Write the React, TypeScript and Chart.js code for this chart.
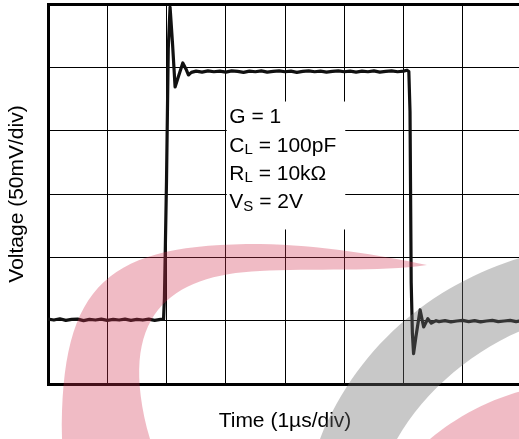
import React, { useEffect, useRef } from "react";
import { Chart, registerables } from "chart.js";

Chart.register(...registerables);

const FAMILY = "'Liberation Sans', Arial, sans-serif";

// Time in µs (1 µs / div), voltage in divisions (50 mV / div)
const timeUs: number[] = [
  0.0, 0.1, 0.2, 0.3, 0.4, 0.5, 0.6, 0.7, 0.8, 0.9,
  1.0, 1.1, 1.2, 1.3, 1.4, 1.5, 1.6, 1.7, 1.8, 1.9, 1.95,
  1.965, 2.0, 2.03, 2.06, 2.1, 2.145, 2.2, 2.275, 2.33, 2.37, 2.42,
  2.5, 2.6, 2.7, 2.8, 2.9, 3.0, 3.1, 3.2, 3.3, 3.4, 3.5, 3.6, 3.7, 3.8, 3.9,
  4.0, 4.1, 4.2, 4.3, 4.4, 4.5, 4.6, 4.7, 4.8, 4.9, 5.0, 5.1, 5.2, 5.3, 5.4,
  5.5, 5.6, 5.7, 5.8, 5.9, 6.0, 6.06, 6.09,
  6.11, 6.13, 6.15, 6.17, 6.21, 6.28, 6.34, 6.41, 6.47, 6.55,
  6.6, 6.7, 6.8, 6.9, 7.0, 7.1, 7.2, 7.3, 7.4, 7.5, 7.6, 7.7, 7.8, 7.9, 8.0,
];

const voltDiv: number[] = [
  1.025, 1.01, 1.03, 1.005, 1.02, 1.025, 1.0, 1.02, 1.01, 1.025,
  1.005, 1.02, 1.01, 1.025, 1.005, 1.02, 1.01, 1.025, 1.005, 1.02, 1.02,
  1.35, 3.2, 5.3, 5.95, 5.4, 4.69, 4.85, 5.07, 4.97, 4.88, 4.92,
  4.94, 4.925, 4.945, 4.93, 4.94, 4.925, 4.945, 4.935, 4.92, 4.94, 4.93, 4.945, 4.925, 4.935, 4.945,
  4.93, 4.94, 4.92, 4.935, 4.945, 4.93, 4.94, 4.925, 4.935, 4.945, 4.93, 4.94, 4.925, 4.94, 4.93,
  4.945, 4.925, 4.935, 4.945, 4.93, 4.94, 4.955, 4.935,
  4.3, 1.6, 0.8, 0.48, 0.75, 1.17, 0.9, 1.03, 0.96, 1.0,
  0.985, 1.0, 0.98, 0.995, 1.005, 0.985, 1.0, 0.98, 0.995, 1.005, 0.985, 0.995, 1.005, 0.985, 1.0,
];

const xTitle = "Time (1µs/div)";
const yTitle = "Voltage (50mV/div)";
const xRange = [0, 8];
const yRange = [0, 6];

// Annotation text (condition box)
const labelMain = ["G", "C", "R", "V"];
const labelSub = ["", "L", "L", "S"];
const labelRest = [" = 1", " = 100pF", " = 10kΩ", " = 2V"];
const labelX = 3.06;
const labelBaselines = [4.115, 3.67, 3.222, 2.775];
const boxX = [3, 5];
const boxY = [2.44, 4.46];

const annotationPlugin = {
  id: "annotationBox",
  beforeDatasetsDraw(chart: any) {
    const { ctx, scales } = chart;
    const x = scales.x;
    const y = scales.y;
    const x0 = x.getPixelForValue(boxX[0]) + 1;
    const x1 = x.getPixelForValue(boxX[1]) + 1;
    const y0 = y.getPixelForValue(boxY[1]);
    const y1 = y.getPixelForValue(boxY[0]);
    ctx.save();
    ctx.fillStyle = "#ffffff";
    ctx.fillRect(x0, y0, x1 - x0, y1 - y0);
    ctx.fillStyle = "#000000";
    ctx.textBaseline = "alphabetic";
    ctx.textAlign = "left";
    for (let i = 0; i < labelMain.length; i++) {
      let px = x.getPixelForValue(labelX);
      const py = y.getPixelForValue(labelBaselines[i]);
      ctx.font = `21px ${FAMILY}`;
      ctx.fillText(labelMain[i], px, py);
      px += ctx.measureText(labelMain[i]).width;
      if (labelSub[i]) {
        ctx.font = `15px ${FAMILY}`;
        ctx.fillText(labelSub[i], px, py + 2.5);
        px += ctx.measureText(labelSub[i]).width;
      }
      ctx.font = `21px ${FAMILY}`;
      ctx.fillText(labelRest[i], px, py);
    }
    ctx.restore();
  },
};

const watermarkPlugin = {
  id: "watermark",
  afterDraw(chart: any) {
    const { ctx } = chart;
    ctx.save();
    // red crescent
    ctx.fillStyle = "rgba(210,50,80,0.33)";
    ctx.beginPath();
    ctx.moveTo(62, 439);
    ctx.bezierCurveTo(60, 280, 110, 244, 260, 244);
    ctx.bezierCurveTo(320, 245, 380, 255, 427, 265);
    ctx.bezierCurveTo(380, 272, 310, 268, 260, 271);
    ctx.bezierCurveTo(170, 275, 115, 315, 150, 439);
    ctx.closePath();
    ctx.fill();
    // red corner shape bottom right
    ctx.beginPath();
    ctx.moveTo(430, 439);
    ctx.bezierCurveTo(455, 418, 490, 398, 530, 389);
    ctx.lineTo(530, 439);
    ctx.closePath();
    ctx.fill();
    // grey band
    ctx.fillStyle = "rgba(110,110,110,0.38)";
    ctx.beginPath();
    ctx.moveTo(320, 439);
    ctx.bezierCurveTo(360, 340, 440, 280, 530, 255);
    ctx.lineTo(530, 327);
    ctx.bezierCurveTo(475, 348, 425, 390, 397, 439);
    ctx.closePath();
    ctx.fill();
    ctx.restore();
  },
};

export default function App() {
  const canvasRef = useRef<HTMLCanvasElement | null>(null);

  useEffect(() => {
    const canvas = canvasRef.current;
    if (!canvas) return;
    const points = timeUs.map((t, i) => ({ x: t, y: voltDiv[i] }));
    const chart = new Chart(canvas, {
      type: "line",
      data: {
        datasets: [
          {
            data: points,
            borderColor: "#111111",
            borderWidth: 3.2,
            pointRadius: 0,
            tension: 0,
            borderJoinStyle: "round",
            fill: false,
          },
        ],
      },
      options: {
        animation: false,
        responsive: false,
        devicePixelRatio: 1,
        layout: { padding: { top: 4, right: 8, left: 0, bottom: 0 } },
        plugins: {
          legend: { display: false },
          tooltip: { enabled: false },
        },
        scales: {
          x: {
            type: "linear",
            position: "bottom",
            min: xRange[0],
            max: xRange[1],
            ticks: { display: false, stepSize: 1 },
            grid: { color: "#000000", lineWidth: 1, drawTicks: false },
            border: { display: true, color: "#000000", width: 3 },
            title: {
              display: true,
              text: xTitle,
              color: "#000000",
              font: { family: FAMILY, size: 21 },
              padding: { top: 0, bottom: 5 },
            },
            afterFit: (s: any) => {
              s.height = 55;
            },
          },
          xTop: {
            type: "linear",
            position: "top",
            min: xRange[0],
            max: xRange[1],
            ticks: { display: false },
            grid: { display: false, drawTicks: false },
            border: { display: true, color: "#000000", width: 3 },
            afterFit: (s: any) => {
              s.height = 0;
            },
          },
          y: {
            type: "linear",
            position: "left",
            min: yRange[0],
            max: yRange[1],
            ticks: { display: false, stepSize: 1 },
            grid: { color: "#000000", lineWidth: 1, drawTicks: false },
            border: { display: true, color: "#000000", width: 3 },
            title: {
              display: true,
              text: yTitle,
              color: "#000000",
              font: { family: FAMILY, size: 21 },
              padding: { top: 5, bottom: 0 },
            },
            afterFit: (s: any) => {
              s.width = 48;
            },
          },
        },
      },
      plugins: [annotationPlugin, watermarkPlugin],
    } as any);
    return () => chart.destroy();
  }, []);

  return (
    <div
      style={{
        position: "fixed",
        left: 0,
        top: 0,
        width: 519,
        height: 439,
        overflow: "hidden",
        background: "#ffffff",
      }}
    >
      <canvas
        ref={canvasRef}
        width={530}
        height={439}
        style={{ display: "block", width: 530, height: 439 }}
      />
    </div>
  );
}
